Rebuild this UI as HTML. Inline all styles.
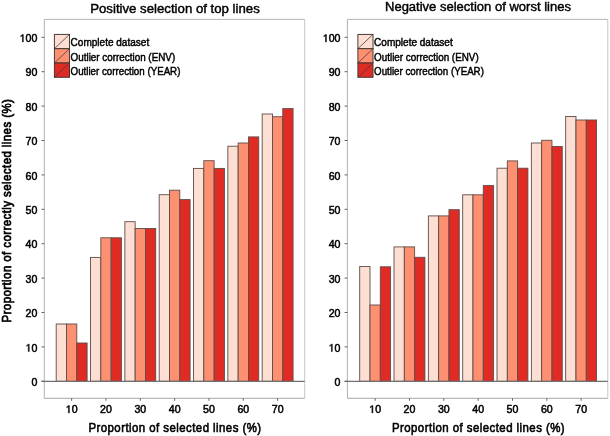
<!DOCTYPE html>
<html><head><meta charset="utf-8"><style>
html,body{margin:0;padding:0;background:#fff;}
body{width:610px;height:436px;overflow:hidden;}
svg{display:block;filter:blur(0.35px);}
text{font-family:"Liberation Sans",sans-serif;fill:#000;}
.tk{font-size:10.6px;stroke:#000;stroke-width:0.5px;}
.ti{font-size:13.6px;stroke:#000;stroke-width:0.45px;}
.lg{font-size:10.5px;stroke:#000;stroke-width:0.45px;}
.lb{font-size:12.8px;stroke:#000;stroke-width:0.6px;letter-spacing:0.5px;}
.yl{font-size:13.3px;stroke:#000;stroke-width:0.75px;letter-spacing:0.5px;}
</style></head><body>
<svg width="610" height="436" viewBox="0 0 610 436">
<rect width="610" height="436" fill="#fff"/>
<line x1="44.3" y1="19.4" x2="304.7" y2="19.4" stroke="#b6b6ba" stroke-width="1"/>
<line x1="44.3" y1="398.3" x2="304.7" y2="398.3" stroke="#a6a6a8" stroke-width="1"/>
<line x1="44.3" y1="19.4" x2="44.3" y2="398.3" stroke="#b0b0b4" stroke-width="1"/>
<line x1="304.7" y1="19.4" x2="304.7" y2="398.3" stroke="#c6c6cc" stroke-width="1"/>
<rect x="56.20" y="324.00" width="10.30" height="57.30" fill="#FDDED2" stroke="#5e4c48" stroke-width="0.9"/>
<rect x="66.50" y="324.00" width="10.30" height="57.30" fill="#FC9071" stroke="#5e4c48" stroke-width="0.9"/>
<rect x="76.80" y="343.00" width="10.30" height="38.30" fill="#E02B25" stroke="#5e4c48" stroke-width="0.9"/>
<rect x="90.53" y="257.40" width="10.30" height="123.90" fill="#FDDED2" stroke="#5e4c48" stroke-width="0.9"/>
<rect x="100.83" y="237.80" width="10.30" height="143.50" fill="#FC9071" stroke="#5e4c48" stroke-width="0.9"/>
<rect x="111.13" y="237.80" width="10.30" height="143.50" fill="#E02B25" stroke="#5e4c48" stroke-width="0.9"/>
<rect x="124.86" y="221.70" width="10.30" height="159.60" fill="#FDDED2" stroke="#5e4c48" stroke-width="0.9"/>
<rect x="135.16" y="228.50" width="10.30" height="152.80" fill="#FC9071" stroke="#5e4c48" stroke-width="0.9"/>
<rect x="145.46" y="228.50" width="10.30" height="152.80" fill="#E02B25" stroke="#5e4c48" stroke-width="0.9"/>
<rect x="159.19" y="194.70" width="10.30" height="186.60" fill="#FDDED2" stroke="#5e4c48" stroke-width="0.9"/>
<rect x="169.49" y="190.20" width="10.30" height="191.10" fill="#FC9071" stroke="#5e4c48" stroke-width="0.9"/>
<rect x="179.79" y="199.60" width="10.30" height="181.70" fill="#E02B25" stroke="#5e4c48" stroke-width="0.9"/>
<rect x="193.52" y="168.40" width="10.30" height="212.90" fill="#FDDED2" stroke="#5e4c48" stroke-width="0.9"/>
<rect x="203.82" y="160.70" width="10.30" height="220.60" fill="#FC9071" stroke="#5e4c48" stroke-width="0.9"/>
<rect x="214.12" y="168.40" width="10.30" height="212.90" fill="#E02B25" stroke="#5e4c48" stroke-width="0.9"/>
<rect x="227.85" y="146.20" width="10.30" height="235.10" fill="#FDDED2" stroke="#5e4c48" stroke-width="0.9"/>
<rect x="238.15" y="143.00" width="10.30" height="238.30" fill="#FC9071" stroke="#5e4c48" stroke-width="0.9"/>
<rect x="248.45" y="136.90" width="10.30" height="244.40" fill="#E02B25" stroke="#5e4c48" stroke-width="0.9"/>
<rect x="262.18" y="114.00" width="10.30" height="267.30" fill="#FDDED2" stroke="#5e4c48" stroke-width="0.9"/>
<rect x="272.48" y="116.70" width="10.30" height="264.60" fill="#FC9071" stroke="#5e4c48" stroke-width="0.9"/>
<rect x="282.78" y="108.60" width="10.30" height="272.70" fill="#E02B25" stroke="#5e4c48" stroke-width="0.9"/>
<line x1="41.5" y1="381.3" x2="304.7" y2="381.3" stroke="#707070" stroke-width="1.2"/>
<line x1="41.5" y1="381.30" x2="44.3" y2="381.30" stroke="#606060" stroke-width="1"/>
<text x="31.50" y="385.90" class="tk">0</text>
<line x1="41.5" y1="346.90" x2="44.3" y2="346.90" stroke="#606060" stroke-width="1"/>
<polygon points="28.28,351.50 29.21,351.50 29.21,344.21 28.35,344.21 26.63,345.39 26.63,346.27 28.28,345.10" fill="#000" stroke="#000" stroke-width="0.5" stroke-linejoin="round"/><text x="31.50" y="351.50" class="tk">0</text>
<line x1="41.5" y1="312.50" x2="44.3" y2="312.50" stroke="#606060" stroke-width="1"/>
<text x="25.61" y="317.10" class="tk">2</text><text x="31.50" y="317.10" class="tk">0</text>
<line x1="41.5" y1="278.10" x2="44.3" y2="278.10" stroke="#606060" stroke-width="1"/>
<text x="25.61" y="282.70" class="tk">3</text><text x="31.50" y="282.70" class="tk">0</text>
<line x1="41.5" y1="243.70" x2="44.3" y2="243.70" stroke="#606060" stroke-width="1"/>
<text x="25.61" y="248.30" class="tk">4</text><text x="31.50" y="248.30" class="tk">0</text>
<line x1="41.5" y1="209.30" x2="44.3" y2="209.30" stroke="#606060" stroke-width="1"/>
<text x="25.61" y="213.90" class="tk">5</text><text x="31.50" y="213.90" class="tk">0</text>
<line x1="41.5" y1="174.90" x2="44.3" y2="174.90" stroke="#606060" stroke-width="1"/>
<text x="25.61" y="179.50" class="tk">6</text><text x="31.50" y="179.50" class="tk">0</text>
<line x1="41.5" y1="140.50" x2="44.3" y2="140.50" stroke="#606060" stroke-width="1"/>
<text x="25.61" y="145.10" class="tk">7</text><text x="31.50" y="145.10" class="tk">0</text>
<line x1="41.5" y1="106.10" x2="44.3" y2="106.10" stroke="#606060" stroke-width="1"/>
<text x="25.61" y="110.70" class="tk">8</text><text x="31.50" y="110.70" class="tk">0</text>
<line x1="41.5" y1="71.70" x2="44.3" y2="71.70" stroke="#606060" stroke-width="1"/>
<text x="25.61" y="76.30" class="tk">9</text><text x="31.50" y="76.30" class="tk">0</text>
<line x1="41.5" y1="37.30" x2="44.3" y2="37.30" stroke="#606060" stroke-width="1"/>
<polygon points="22.38,41.90 23.32,41.90 23.32,34.61 22.46,34.61 20.73,35.79 20.73,36.67 22.38,35.50" fill="#000" stroke="#000" stroke-width="0.5" stroke-linejoin="round"/><text x="25.61" y="41.90" class="tk">0</text><text x="31.50" y="41.90" class="tk">0</text>
<line x1="71.65" y1="398.3" x2="71.65" y2="400.8" stroke="#606060" stroke-width="1"/>
<polygon points="68.42,412.90 69.36,412.90 69.36,405.61 68.50,405.61 66.77,406.79 66.77,407.67 68.42,406.50" fill="#000" stroke="#000" stroke-width="0.5" stroke-linejoin="round"/><text x="71.65" y="412.90" class="tk">0</text>
<line x1="105.98" y1="398.3" x2="105.98" y2="400.8" stroke="#606060" stroke-width="1"/>
<text x="100.08" y="412.90" class="tk">2</text><text x="105.98" y="412.90" class="tk">0</text>
<line x1="140.31" y1="398.3" x2="140.31" y2="400.8" stroke="#606060" stroke-width="1"/>
<text x="134.41" y="412.90" class="tk">3</text><text x="140.31" y="412.90" class="tk">0</text>
<line x1="174.64" y1="398.3" x2="174.64" y2="400.8" stroke="#606060" stroke-width="1"/>
<text x="168.74" y="412.90" class="tk">4</text><text x="174.64" y="412.90" class="tk">0</text>
<line x1="208.97" y1="398.3" x2="208.97" y2="400.8" stroke="#606060" stroke-width="1"/>
<text x="203.07" y="412.90" class="tk">5</text><text x="208.97" y="412.90" class="tk">0</text>
<line x1="243.30" y1="398.3" x2="243.30" y2="400.8" stroke="#606060" stroke-width="1"/>
<text x="237.40" y="412.90" class="tk">6</text><text x="243.30" y="412.90" class="tk">0</text>
<line x1="277.63" y1="398.3" x2="277.63" y2="400.8" stroke="#606060" stroke-width="1"/>
<text x="271.73" y="412.90" class="tk">7</text><text x="277.63" y="412.90" class="tk">0</text>
<text x="90.2" y="12.7" class="ti" textLength="169.6" lengthAdjust="spacingAndGlyphs">Positive selection of top lines</text>
<text x="88.4" y="431.7" class="lb" textLength="173.2" lengthAdjust="spacingAndGlyphs">Proportion of selected lines (%)</text>
<rect x="54.4" y="34.40" width="15.1" height="14.3" fill="#FDDED2" stroke="#3e3432" stroke-width="0.95"/>
<line x1="54.4" y1="48.70" x2="69.50" y2="34.40" stroke="#4a3c3a" stroke-width="0.8"/>
<text x="70.60" y="46.00" class="lg" textLength="78.6" lengthAdjust="spacingAndGlyphs">Complete dataset</text>
<rect x="54.4" y="48.70" width="15.1" height="14.3" fill="#FC9071" stroke="#3e3432" stroke-width="0.95"/>
<line x1="54.4" y1="63.00" x2="69.50" y2="48.70" stroke="#4a3c3a" stroke-width="0.8"/>
<text x="70.60" y="61.20" class="lg" textLength="104.6" lengthAdjust="spacingAndGlyphs">Outlier correction (ENV)</text>
<rect x="54.4" y="63.00" width="15.1" height="14.3" fill="#E02B25" stroke="#3e3432" stroke-width="0.95"/>
<line x1="54.4" y1="77.30" x2="69.50" y2="63.00" stroke="#4a3c3a" stroke-width="0.8"/>
<text x="70.60" y="74.80" class="lg" textLength="109.8" lengthAdjust="spacingAndGlyphs">Outlier correction (YEAR)</text>
<line x1="347.40000000000003" y1="19.4" x2="607.8" y2="19.4" stroke="#b6b6ba" stroke-width="1"/>
<line x1="347.40000000000003" y1="398.3" x2="607.8" y2="398.3" stroke="#a6a6a8" stroke-width="1"/>
<line x1="347.40000000000003" y1="19.4" x2="347.40000000000003" y2="398.3" stroke="#b0b0b4" stroke-width="1"/>
<line x1="607.8" y1="19.4" x2="607.8" y2="398.3" stroke="#c6c6cc" stroke-width="1"/>
<rect x="359.70" y="266.50" width="10.30" height="114.80" fill="#FDDED2" stroke="#5e4c48" stroke-width="0.9"/>
<rect x="370.00" y="305.00" width="10.30" height="76.30" fill="#FC9071" stroke="#5e4c48" stroke-width="0.9"/>
<rect x="380.30" y="266.80" width="10.30" height="114.50" fill="#E02B25" stroke="#5e4c48" stroke-width="0.9"/>
<rect x="394.03" y="246.90" width="10.30" height="134.40" fill="#FDDED2" stroke="#5e4c48" stroke-width="0.9"/>
<rect x="404.33" y="246.90" width="10.30" height="134.40" fill="#FC9071" stroke="#5e4c48" stroke-width="0.9"/>
<rect x="414.63" y="257.30" width="10.30" height="124.00" fill="#E02B25" stroke="#5e4c48" stroke-width="0.9"/>
<rect x="428.36" y="215.90" width="10.30" height="165.40" fill="#FDDED2" stroke="#5e4c48" stroke-width="0.9"/>
<rect x="438.66" y="215.90" width="10.30" height="165.40" fill="#FC9071" stroke="#5e4c48" stroke-width="0.9"/>
<rect x="448.96" y="209.70" width="10.30" height="171.60" fill="#E02B25" stroke="#5e4c48" stroke-width="0.9"/>
<rect x="462.69" y="194.80" width="10.30" height="186.50" fill="#FDDED2" stroke="#5e4c48" stroke-width="0.9"/>
<rect x="472.99" y="194.80" width="10.30" height="186.50" fill="#FC9071" stroke="#5e4c48" stroke-width="0.9"/>
<rect x="483.29" y="185.60" width="10.30" height="195.70" fill="#E02B25" stroke="#5e4c48" stroke-width="0.9"/>
<rect x="497.02" y="168.20" width="10.30" height="213.10" fill="#FDDED2" stroke="#5e4c48" stroke-width="0.9"/>
<rect x="507.32" y="160.90" width="10.30" height="220.40" fill="#FC9071" stroke="#5e4c48" stroke-width="0.9"/>
<rect x="517.62" y="168.20" width="10.30" height="213.10" fill="#E02B25" stroke="#5e4c48" stroke-width="0.9"/>
<rect x="531.35" y="143.00" width="10.30" height="238.30" fill="#FDDED2" stroke="#5e4c48" stroke-width="0.9"/>
<rect x="541.65" y="140.30" width="10.30" height="241.00" fill="#FC9071" stroke="#5e4c48" stroke-width="0.9"/>
<rect x="551.95" y="146.50" width="10.30" height="234.80" fill="#E02B25" stroke="#5e4c48" stroke-width="0.9"/>
<rect x="565.68" y="116.50" width="10.30" height="264.80" fill="#FDDED2" stroke="#5e4c48" stroke-width="0.9"/>
<rect x="575.98" y="120.00" width="10.30" height="261.30" fill="#FC9071" stroke="#5e4c48" stroke-width="0.9"/>
<rect x="586.28" y="120.00" width="10.30" height="261.30" fill="#E02B25" stroke="#5e4c48" stroke-width="0.9"/>
<line x1="344.6" y1="381.3" x2="607.8" y2="381.3" stroke="#707070" stroke-width="1.2"/>
<line x1="344.6" y1="381.30" x2="347.40000000000003" y2="381.30" stroke="#606060" stroke-width="1"/>
<text x="334.60" y="385.90" class="tk">0</text>
<line x1="344.6" y1="346.90" x2="347.40000000000003" y2="346.90" stroke="#606060" stroke-width="1"/>
<polygon points="331.38,351.50 332.31,351.50 332.31,344.21 331.45,344.21 329.73,345.39 329.73,346.27 331.38,345.10" fill="#000" stroke="#000" stroke-width="0.5" stroke-linejoin="round"/><text x="334.60" y="351.50" class="tk">0</text>
<line x1="344.6" y1="312.50" x2="347.40000000000003" y2="312.50" stroke="#606060" stroke-width="1"/>
<text x="328.71" y="317.10" class="tk">2</text><text x="334.60" y="317.10" class="tk">0</text>
<line x1="344.6" y1="278.10" x2="347.40000000000003" y2="278.10" stroke="#606060" stroke-width="1"/>
<text x="328.71" y="282.70" class="tk">3</text><text x="334.60" y="282.70" class="tk">0</text>
<line x1="344.6" y1="243.70" x2="347.40000000000003" y2="243.70" stroke="#606060" stroke-width="1"/>
<text x="328.71" y="248.30" class="tk">4</text><text x="334.60" y="248.30" class="tk">0</text>
<line x1="344.6" y1="209.30" x2="347.40000000000003" y2="209.30" stroke="#606060" stroke-width="1"/>
<text x="328.71" y="213.90" class="tk">5</text><text x="334.60" y="213.90" class="tk">0</text>
<line x1="344.6" y1="174.90" x2="347.40000000000003" y2="174.90" stroke="#606060" stroke-width="1"/>
<text x="328.71" y="179.50" class="tk">6</text><text x="334.60" y="179.50" class="tk">0</text>
<line x1="344.6" y1="140.50" x2="347.40000000000003" y2="140.50" stroke="#606060" stroke-width="1"/>
<text x="328.71" y="145.10" class="tk">7</text><text x="334.60" y="145.10" class="tk">0</text>
<line x1="344.6" y1="106.10" x2="347.40000000000003" y2="106.10" stroke="#606060" stroke-width="1"/>
<text x="328.71" y="110.70" class="tk">8</text><text x="334.60" y="110.70" class="tk">0</text>
<line x1="344.6" y1="71.70" x2="347.40000000000003" y2="71.70" stroke="#606060" stroke-width="1"/>
<text x="328.71" y="76.30" class="tk">9</text><text x="334.60" y="76.30" class="tk">0</text>
<line x1="344.6" y1="37.30" x2="347.40000000000003" y2="37.30" stroke="#606060" stroke-width="1"/>
<polygon points="325.48,41.90 326.42,41.90 326.42,34.61 325.56,34.61 323.83,35.79 323.83,36.67 325.48,35.50" fill="#000" stroke="#000" stroke-width="0.5" stroke-linejoin="round"/><text x="328.71" y="41.90" class="tk">0</text><text x="334.60" y="41.90" class="tk">0</text>
<line x1="375.15" y1="398.3" x2="375.15" y2="400.8" stroke="#606060" stroke-width="1"/>
<polygon points="371.92,412.90 372.86,412.90 372.86,405.61 372.00,405.61 370.27,406.79 370.27,407.67 371.92,406.50" fill="#000" stroke="#000" stroke-width="0.5" stroke-linejoin="round"/><text x="375.15" y="412.90" class="tk">0</text>
<line x1="409.48" y1="398.3" x2="409.48" y2="400.8" stroke="#606060" stroke-width="1"/>
<text x="403.58" y="412.90" class="tk">2</text><text x="409.48" y="412.90" class="tk">0</text>
<line x1="443.81" y1="398.3" x2="443.81" y2="400.8" stroke="#606060" stroke-width="1"/>
<text x="437.91" y="412.90" class="tk">3</text><text x="443.81" y="412.90" class="tk">0</text>
<line x1="478.14" y1="398.3" x2="478.14" y2="400.8" stroke="#606060" stroke-width="1"/>
<text x="472.24" y="412.90" class="tk">4</text><text x="478.14" y="412.90" class="tk">0</text>
<line x1="512.47" y1="398.3" x2="512.47" y2="400.8" stroke="#606060" stroke-width="1"/>
<text x="506.57" y="412.90" class="tk">5</text><text x="512.47" y="412.90" class="tk">0</text>
<line x1="546.80" y1="398.3" x2="546.80" y2="400.8" stroke="#606060" stroke-width="1"/>
<text x="540.90" y="412.90" class="tk">6</text><text x="546.80" y="412.90" class="tk">0</text>
<line x1="581.13" y1="398.3" x2="581.13" y2="400.8" stroke="#606060" stroke-width="1"/>
<text x="575.23" y="412.90" class="tk">7</text><text x="581.13" y="412.90" class="tk">0</text>
<text x="385.0" y="10.6" class="ti" textLength="185.9" lengthAdjust="spacingAndGlyphs">Negative selection of worst lines</text>
<text x="391.9" y="431.7" class="lb" textLength="173.2" lengthAdjust="spacingAndGlyphs">Proportion of selected lines (%)</text>
<rect x="357.9" y="34.40" width="15.1" height="14.3" fill="#FDDED2" stroke="#3e3432" stroke-width="0.95"/>
<line x1="357.9" y1="48.70" x2="373.00" y2="34.40" stroke="#4a3c3a" stroke-width="0.8"/>
<text x="374.10" y="46.00" class="lg" textLength="78.6" lengthAdjust="spacingAndGlyphs">Complete dataset</text>
<rect x="357.9" y="48.70" width="15.1" height="14.3" fill="#FC9071" stroke="#3e3432" stroke-width="0.95"/>
<line x1="357.9" y1="63.00" x2="373.00" y2="48.70" stroke="#4a3c3a" stroke-width="0.8"/>
<text x="374.10" y="61.20" class="lg" textLength="104.6" lengthAdjust="spacingAndGlyphs">Outlier correction (ENV)</text>
<rect x="357.9" y="63.00" width="15.1" height="14.3" fill="#E02B25" stroke="#3e3432" stroke-width="0.95"/>
<line x1="357.9" y1="77.30" x2="373.00" y2="63.00" stroke="#4a3c3a" stroke-width="0.8"/>
<text x="374.10" y="74.80" class="lg" textLength="109.8" lengthAdjust="spacingAndGlyphs">Outlier correction (YEAR)</text>
<text transform="translate(10.6,210.6) rotate(-90)" x="-111.90" y="0" class="yl" textLength="223.8" lengthAdjust="spacingAndGlyphs">Proportion of correctly selected lines (%)</text>
</svg>
</body></html>
